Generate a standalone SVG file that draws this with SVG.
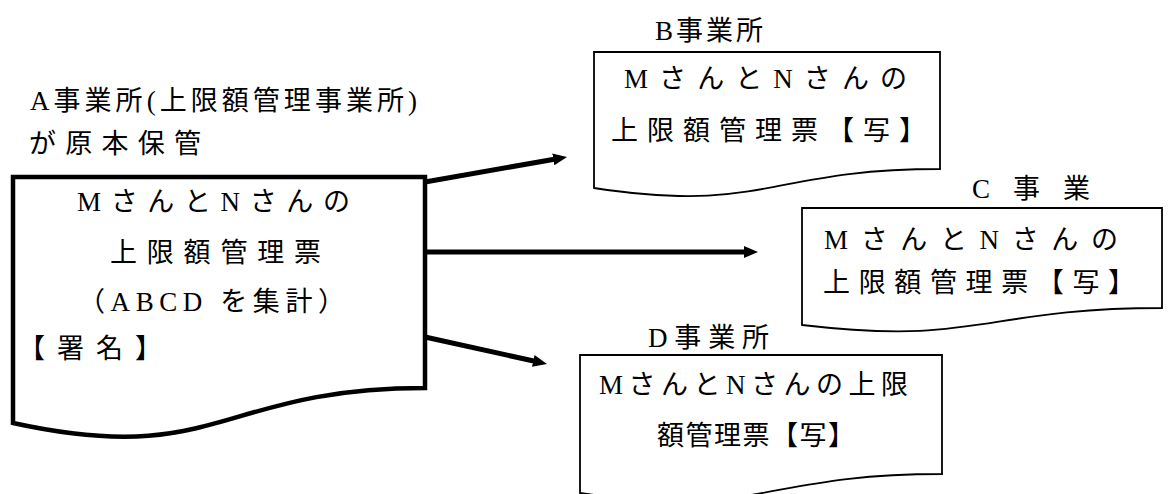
<svg xmlns="http://www.w3.org/2000/svg" width="1169" height="494" viewBox="0 0 1169 494">
<style>
text{font-family:"Liberation Serif","Noto Sans CJK JP",serif;font-size:27px;fill:#000}
.doc{fill:#fff;stroke:#000;stroke-width:1.8;stroke-linejoin:miter}
.main{fill:#fff;stroke:#000;stroke-width:4.5;stroke-linejoin:miter}
.arrow{stroke:#000;stroke-width:5;fill:none;marker-end:url(#ah)}
</style>
<defs>
<marker id="ah" markerUnits="userSpaceOnUse" markerWidth="14" markerHeight="12" refX="4" refY="6" orient="auto">
<path d="M0,0 L14,6 L0,12 z" fill="#000"/>
</marker>
</defs>
<rect width="1169" height="494" fill="#fff"/>
<g id="label-a">
<text x="30" y="110" textLength="387" lengthAdjust="spacing">A事業所(上限額管理事業所)</text>
<text x="29" y="153" textLength="172" lengthAdjust="spacing">が原本保管</text>
</g>
<g id="node-a">
<path class="main" d="M13,177 H425 V388 C219,388 219,468 13,423 Z"/>
<text x="77" y="211" textLength="273" lengthAdjust="spacing">MさんとNさんの</text>
<text x="110" y="262" textLength="211" lengthAdjust="spacing">上限額管理票</text>
<text x="78" y="311" textLength="267" lengthAdjust="spacing">（ABCD を集計）</text>
<text x="18" y="358" textLength="144" lengthAdjust="spacing">【署名】</text>
</g>
<g id="node-b">
<text x="655" y="40" textLength="108" lengthAdjust="spacing">B事業所</text>
<path class="doc" d="M594,52 H940 V169 C767,169 767,214 594,188 Z"/>
<text x="624" y="88" textLength="283" lengthAdjust="spacing">MさんとNさんの</text>
<text x="611" y="140" textLength="315" lengthAdjust="spacing">上限額管理票【写】</text>
</g>
<g id="node-c">
<text x="972" y="198" textLength="118" lengthAdjust="spacing">C 事 業</text>
<path class="doc" d="M802,208 H1162 V308 C982,308 982,346 802,325 Z"/>
<text x="824" y="249" textLength="294" lengthAdjust="spacing">MさんとNさんの</text>
<text x="823" y="292" textLength="312" lengthAdjust="spacing">上限額管理票【写】</text>
</g>
<g id="node-d">
<text x="648" y="347" textLength="121" lengthAdjust="spacing">D事業所</text>
<path class="doc" d="M580,355 H942 V474 C761,474 761,519 580,493 Z"/>
<text x="599" y="394" textLength="309" lengthAdjust="spacing">MさんとNさんの上限</text>
<text x="657" y="445" textLength="198" lengthAdjust="spacing">額管理票【写】</text>
</g>
<g id="connectors">
<line class="arrow" x1="425" y1="182" x2="557.2" y2="158.7"/>
<line class="arrow" x1="425" y1="252" x2="748" y2="252"/>
<line class="arrow" x1="425" y1="337" x2="537.2" y2="361.8"/>
</g>
</svg>
